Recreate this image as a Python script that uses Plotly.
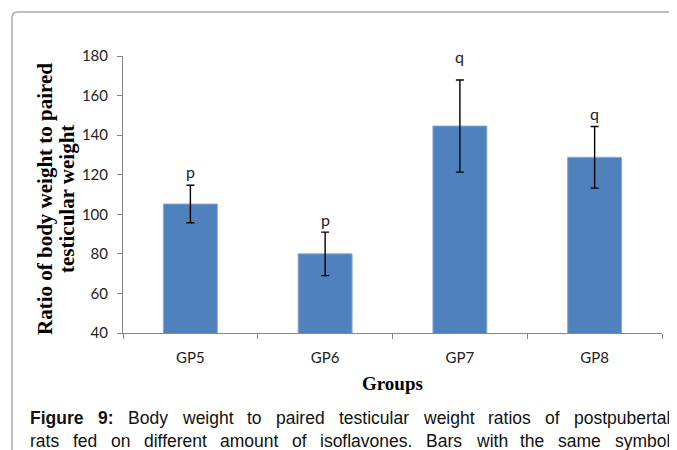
import plotly.graph_objects as go

# ---- data ----
groups = ["GP5", "GP6", "GP7", "GP8"]
means = [105.2, 80.0, 144.6, 128.8]
errors = [9.5, 11.0, 23.3, 15.6]
letters = ["p", "p", "q", "q"]
letter_y = [121.5, 97.5, 180.0, 151.0]
y_ticks = [40, 60, 80, 100, 120, 140, 160, 180]

caption_line1 = ["Figure", "9:", "Body", "weight", "to", "paired", "testicular",
                 "weight", "ratios", "of", "postpubertal"]
caption_bold_words = 2
caption_line2 = ["rats", "fed", "on", "different", "amount", "of", "isoflavones.",
                 "Bars", "with", "the", "same", "symbol"]

# ---- layout geometry (pixels in the 677x450 target; page body adds an 8px offset) ----
OFF = 8
W, H = 677 - OFF, 450 - OFF
L, R, T, B = 123 - OFF, 15, 56 - OFF, 117
PW = W - L - R
PH = H - T - B


def px_x(px):
    return (px - OFF - L) / PW


def px_y(py):
    return (H - B - (py - OFF)) / PH


# Arial metrics (per 1000 em)
ARIAL = {' ': 278, '.': 278, ',': 278, ':': 278,
         'a': 556, 'b': 556, 'c': 500, 'd': 556, 'e': 556, 'f': 278, 'g': 556,
         'h': 556, 'i': 222, 'j': 222, 'k': 500, 'l': 222, 'm': 833, 'n': 556,
         'o': 556, 'p': 556, 'q': 556, 'r': 333, 's': 500, 't': 278, 'u': 556,
         'v': 500, 'w': 722, 'x': 500, 'y': 500, 'z': 500, 'B': 667, 'F': 611}
ARIAL_B = {'F': 611, 'i': 278, 'g': 611, 'u': 611, 'r': 389, 'e': 556,
           '9': 556, ':': 333}
for d in "0123456789":
    ARIAL.setdefault(d, 556)


def word_width(w, bold, size):
    tbl = ARIAL_B if bold else ARIAL
    return sum(tbl.get(c, 556) for c in w) * size / 1000.0


fig = go.Figure()
fig.add_trace(go.Bar(
    x=groups, y=means, width=0.4,
    marker=dict(color="#4F81BD", line=dict(color="#8AA8D6", width=1)),
    error_y=dict(type="data", array=errors, color="black", thickness=1.4, width=4),
    showlegend=False,
))

annotations = []
for g, lt, ly in zip(groups, letters, letter_y):
    annotations.append(dict(x=g, y=ly, xref="x", yref="y", text=lt, showarrow=False,
                            xanchor="center", yanchor="middle",
                            font=dict(family="Lato", size=16, color="#222")))

# axis titles
annotations.append(dict(x=px_x(45), y=px_y(199), xref="paper", yref="paper",
                        xanchor="center", yanchor="middle",
                        text="<b>Ratio of body weight to paired</b>", textangle=-90,
                        showarrow=False, font=dict(family="Liberation Serif", size=21, color="black")))
annotations.append(dict(x=px_x(67), y=px_y(199), xref="paper", yref="paper",
                        xanchor="center", yanchor="middle",
                        text="<b>testicular weight</b>", textangle=-90,
                        showarrow=False, font=dict(family="Liberation Serif", size=21, color="black")))
annotations.append(dict(x=px_x(392), y=px_y(383), xref="paper", yref="paper",
                        xanchor="center", yanchor="middle",
                        text="<b>Groups</b>", showarrow=False,
                        font=dict(family="Liberation Serif", size=19, color="black")))

# justified caption
CAP_SIZE = 17.5
x_left, x_right = 29, 669
for words, nbold, ypx in [(caption_line1, caption_bold_words, 418), (caption_line2, 0, 441)]:
    widths = [word_width(w, i < nbold, CAP_SIZE) for i, w in enumerate(words)]
    gap = (x_right - x_left - sum(widths)) / (len(words) - 1)
    xp = x_left
    for i, w in enumerate(words):
        txt = f"<b>{w}</b>" if i < nbold else w
        annotations.append(dict(x=px_x(xp - 1), y=px_y(ypx), xref="paper", yref="paper",
                                xanchor="left", yanchor="middle", text=txt, showarrow=False,
                                font=dict(family="Liberation Sans", size=CAP_SIZE, color="#111")))
        xp += widths[i] + gap

# frame (rounded, clipped at right and bottom)
x0, y0 = px_x(12), px_y(12)
path = (f"M {px_x(700)},{y0} L {px_x(18)},{y0} Q {x0},{y0} {x0},{px_y(18)} "
        f"L {x0},{px_y(470)}")
shapes = [dict(type="path", path=path, xref="paper", yref="paper",
               line=dict(color="#A9A9A9", width=1.5))]

fig.update_layout(
    width=W, height=H,
    margin=dict(l=L, r=R, t=T, b=B),
    paper_bgcolor="white", plot_bgcolor="white",
    bargap=0.6,
    annotations=annotations,
    shapes=shapes,
    xaxis=dict(type="category", showline=True, linecolor="#868686", linewidth=1,
               ticks="outside", ticklen=5, tickcolor="#868686", tickson="boundaries",
               showgrid=False, ticklabelstandoff=11,
               tickfont=dict(family="Lato", size=15, color="#222")),
    yaxis=dict(range=[40, 180], tickvals=y_ticks, showline=True, linecolor="#868686",
               linewidth=1, ticks="outside", ticklen=5, tickcolor="#868686",
               showgrid=False, zeroline=False, ticklabelstandoff=6,
               tickfont=dict(family="Lato", size=15, color="#222")),
)

fig.write_html("out.html")
